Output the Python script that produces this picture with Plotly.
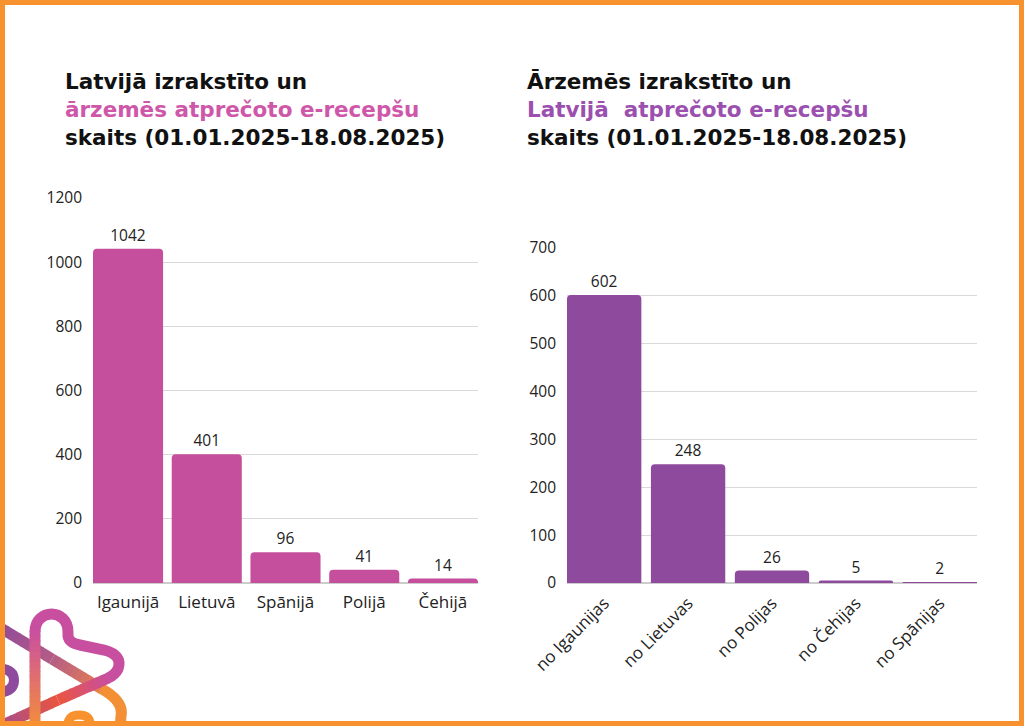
import plotly.graph_objects as go

W, H = 1024, 726

# ---- data ----
left_categories = ["Igaunijā", "Lietuvā", "Spānijā", "Polijā", "Čehijā"]
left_values = [1042, 401, 96, 41, 14]
right_categories = ["no Igaunijas", "no Lietuvas", "no Polijas", "no Čehijas", "no Spānijas"]
right_values = [602, 248, 26, 5, 2]
left_ticks = [0, 200, 400, 600, 800, 1000, 1200]
right_ticks = [0, 100, 200, 300, 400, 500, 600, 700]

PINK = "#C64F9D"
PURPLE = "#8E4A9C"
ORANGE = "#F7922F"
FONT = "Open Sans"
TFONT = "DejaVu Sans"
TXT = "#222222"

def px(x):
    return x / W

def py(y):
    return 1 - y / H

fig = go.Figure()

fig.add_trace(go.Bar(
    x=left_categories, y=left_values, width=0.89,
    marker=dict(color=PINK, line=dict(width=0)),
    text=left_values, texttemplate="%{text}", textposition="outside",
    textfont=dict(family=FONT, size=15.5, color=TXT), cliponaxis=False,
    xaxis="x", yaxis="y", hoverinfo="skip",
))
fig.add_trace(go.Bar(
    x=right_categories, y=right_values, width=0.886,
    marker=dict(color=PURPLE, line=dict(width=0)),
    text=right_values, texttemplate="%{text}", textposition="outside",
    textfont=dict(family=FONT, size=15.5, color=TXT), cliponaxis=False,
    xaxis="x2", yaxis="y2", hoverinfo="skip",
))

y_common = dict(showline=False, ticks="", automargin=False,
                tickfont=dict(family=FONT, size=15.5, color=TXT))
x_common = dict(showline=False, ticks="", automargin=False,
                tickfont=dict(family=FONT, size=17, color=TXT))

fig.update_layout(
    width=W, height=H,
    margin=dict(l=0, r=0, t=0, b=0, pad=0, autoexpand=False),
    paper_bgcolor="white", plot_bgcolor="white",
    showlegend=False, barcornerradius=4,
    xaxis=dict(domain=[px(93), px(478)], range=[-0.445, 4.445], showgrid=False,
               zeroline=False, ticklabelstandoff=7, anchor="y", **x_common),
    yaxis=dict(domain=[py(583), py(198)], range=[0, 1200], tickvals=left_ticks,
               showgrid=True, gridcolor="#d9d9d9", gridwidth=1,
               zeroline=True, zerolinecolor="#cccccc", zerolinewidth=2,
               ticklabelstandoff=10, anchor="x", **y_common),
    xaxis2=dict(domain=[px(567), px(977)], range=[-0.443, 4.443], showgrid=False,
                zeroline=False, tickangle=-45, ticklabelstandoff=6, anchor="y2", **x_common),
    yaxis2=dict(domain=[py(583), py(248)], range=[0, 700], tickvals=right_ticks,
                showgrid=True, gridcolor="#d9d9d9", gridwidth=1,
                zeroline=True, zerolinecolor="#cccccc", zerolinewidth=2,
                ticklabelstandoff=10, anchor="x2", **y_common),
)

# ---- titles ----
title_size = 21.5
left_title = ("<b>Latvijā izrakstīto un</b><br>"
              "<b><span style='color:#CF57AA'>ārzemēs atprečoto e-recepšu</span></b><br>"
              "<b>skaits (01.01.2025-18.08.2025)</b>")
right_title = ("<b>Ārzemēs izrakstīto un</b><br>"
               "<b><span style='color:#9B50B0'>Latvijā  atprečoto e-recepšu</span></b><br>"
               "<b>skaits (01.01.2025-18.08.2025)</b>")
for t, x0 in ((left_title, 63), (right_title, 525)):
    fig.add_annotation(
        x=px(x0), y=py(109), xref="paper", yref="paper",
        xanchor="left", yanchor="middle", align="left", showarrow=False,
        text=t, font=dict(family=TFONT, size=title_size, color="#111111"),
    )

# ---- decorative logo (bottom-left) ----
def pt(p):
    return f"{px(p[0]):.5f},{py(p[1]):.5f}"

def path(cmds):
    return " ".join(c if isinstance(c, str) else pt(c) for c in cmds)

def hex2rgb(h):
    h = h.lstrip("#")
    return tuple(int(h[i:i + 2], 16) for i in (0, 2, 4))

def mix(c0, c1, t):
    a, b = hex2rgb(c0), hex2rgb(c1)
    return "rgb(%d,%d,%d)" % tuple(round(a[i] + (b[i] - a[i]) * t) for i in range(3))

LW = 11

def grad_line(p0, p1, c0, c1, n=10):
    for i in range(n):
        t0, t1 = i / n, min(1.0, (i + 1.15) / n)
        a = (p0[0] + (p1[0] - p0[0]) * t0, p0[1] + (p1[1] - p0[1]) * t0)
        b = (p0[0] + (p1[0] - p0[0]) * t1, p0[1] + (p1[1] - p0[1]) * t1)
        fig.add_shape(type="path", xref="paper", yref="paper", path=path(["M", a, "L", b]),
                      line=dict(color=mix(c0, c1, (i + 0.5) / n), width=LW), layer="below")

def curve(cmds, col, w=LW):
    fig.add_shape(type="path", xref="paper", yref="paper", path=path(cmds),
                  line=dict(color=col, width=w), layer="below")

# left purple partial loop
curve(["M", (-6, 668), "Q", (14, 668), (14, 680), "Q", (14, 693), (-6, 693)], "#8E4A9C", 10)
# diagonal from top-left to lower right
grad_line((-6, 624), (52, 659), "#8E4A9C", "#B45C86")
grad_line((52, 659), (102, 689), "#B45C86", "#E9804F")
curve(["M", (101, 688.5), "Q", (124, 701), (121, 716), "L", (120, 732)], "#F39035")
# small orange arch at the bottom
curve(["M", (68, 732), "L", (68, 725), "Q", (68, 715), (79, 715), "Q", (90, 715), (90, 724)], "#F7922F", 9)
# top loop and right petal
curve(["M", (35, 632), "C", (35, 608), (68, 608), (68, 632), "L", (68, 636),
       "Q", (69, 643), (80, 645), "L", (104, 650), "Q", (123, 655), (118, 669),
       "Q", (115, 675), (108, 678)], "#C84FA0")
# diagonal from right petal down to the left
grad_line((108.5, 678), (58, 700), "#C84FA0", "#EA5540")
grad_line((58, 700), (-6, 729), "#EA5540", "#9C4C96")
# left stem
grad_line((35, 732), (35, 682), "#F39035", "#E2726A")
grad_line((35, 682), (35, 631), "#E2726A", "#C84FA0")

# ---- orange border ----
fig.add_shape(type="rect", xref="paper", yref="paper", x0=0, y0=0, x1=1, y1=1,
              line=dict(color=ORANGE, width=10), layer="above")

fig.write_html("out.html", config={"displayModeBar": False},
               post_script="document.body.style.margin='0';document.body.style.overflow='hidden';")
